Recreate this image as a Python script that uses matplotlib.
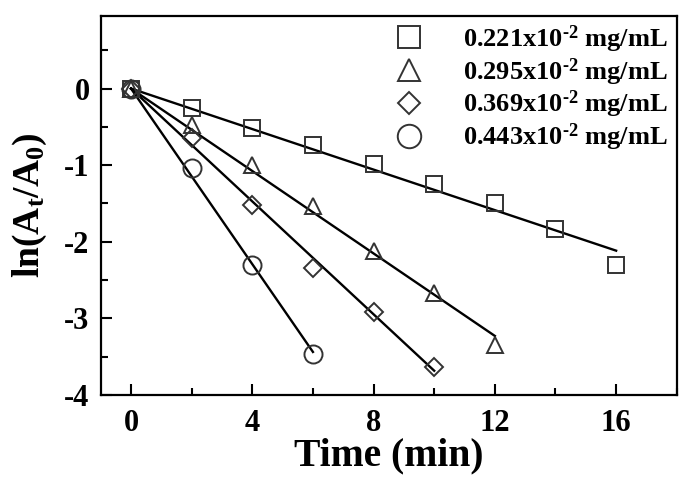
import numpy as np
import matplotlib
matplotlib.use("Agg")
import matplotlib.pyplot as plt
from matplotlib.ticker import MultipleLocator

plt.rcParams['font.family'] = ['Liberation Serif', 'DejaVu Serif']
plt.rcParams['font.weight'] = 'bold'
plt.rcParams['axes.unicode_minus'] = False
plt.rcParams['mathtext.fontset'] = 'custom'
plt.rcParams['mathtext.rm'] = 'Liberation Serif:bold'
plt.rcParams['mathtext.it'] = 'Liberation Serif:bold'
plt.rcParams['mathtext.bf'] = 'Liberation Serif:bold'

# Data
labels = ['0.221x10$^{\\text{-2}}$ mg/mL', '0.295x10$^{\\text{-2}}$ mg/mL',
          '0.369x10$^{\\text{-2}}$ mg/mL', '0.443x10$^{\\text{-2}}$ mg/mL']
t_sq = [0, 2, 4, 6, 8, 10, 12, 14, 16]
y_sq = [0, -0.26, -0.51, -0.74, -0.98, -1.24, -1.50, -1.84, -2.31]
t_tr = [0, 2, 4, 6, 8, 10, 12]
y_tr = [0, -0.47, -1.00, -1.53, -2.12, -2.67, -3.35]
t_di = [0, 2, 4, 6, 8, 10]
y_di = [0, -0.64, -1.52, -2.34, -2.92, -3.63]
t_ci = [0, 2, 4, 6]
y_ci = [0, -1.04, -2.30, -3.47]

series = [(t_sq, y_sq, 's', 12), (t_tr, y_tr, '^', 12),
          (t_di, y_di, 'D', 9), (t_ci, y_ci, 'o', 13)]

fig = plt.figure(figsize=(6.85, 4.93), dpi=100)
ax = fig.add_axes([0.147, 0.199, 0.841, 0.769])

ec = '#333333'
for (t, y, m, ms), lab in zip(series, labels):
    t = np.array(t, float); y = np.array(y, float)
    k = np.sum(t * y) / np.sum(t * t)
    ax.plot([0, t[-1]], [0, k * t[-1]], color='black', lw=1.7, zorder=2)
    ax.plot(t, y, linestyle='none', marker=m, ms=ms, mfc='none',
            mec=ec, mew=1.4, label=lab, zorder=3)

ax.set_xlim(-1, 18)
ax.set_ylim(-4, 0.95)
ax.xaxis.set_major_locator(MultipleLocator(4))
ax.xaxis.set_minor_locator(MultipleLocator(2))
ax.yaxis.set_major_locator(MultipleLocator(1))
ax.yaxis.set_minor_locator(MultipleLocator(0.5))
ax.tick_params(which='both', direction='in', width=1.5, labelsize=22,
               top=False, right=False)
ax.tick_params(which='major', length=8)
ax.tick_params(which='minor', length=5)
ax.tick_params(axis='x', which='major', pad=10)
ax.tick_params(axis='y', which='major', pad=8)
for s in ax.spines.values():
    s.set_linewidth(1.6)
for lbl in ax.get_xticklabels() + ax.get_yticklabels():
    lbl.set_fontweight('bold')

ax.set_xlabel('Time (min)', fontsize=28.5, fontweight='bold', labelpad=0)
ax.set_ylabel('ln(A$_\\mathrm{t}$/A$_\\mathrm{0}$)', fontsize=27,
              fontweight='bold', labelpad=11)

leg = ax.legend(loc='upper right', frameon=False, fontsize=19,
                handletextpad=1.3, labelspacing=0.05, markerscale=1.3,
                bbox_to_anchor=(1.012, 1.022), borderaxespad=0.2,
                handlelength=1.5)
for tx in leg.get_texts():
    tx.set_fontweight('bold')

fig.savefig('out.png', dpi=100)
